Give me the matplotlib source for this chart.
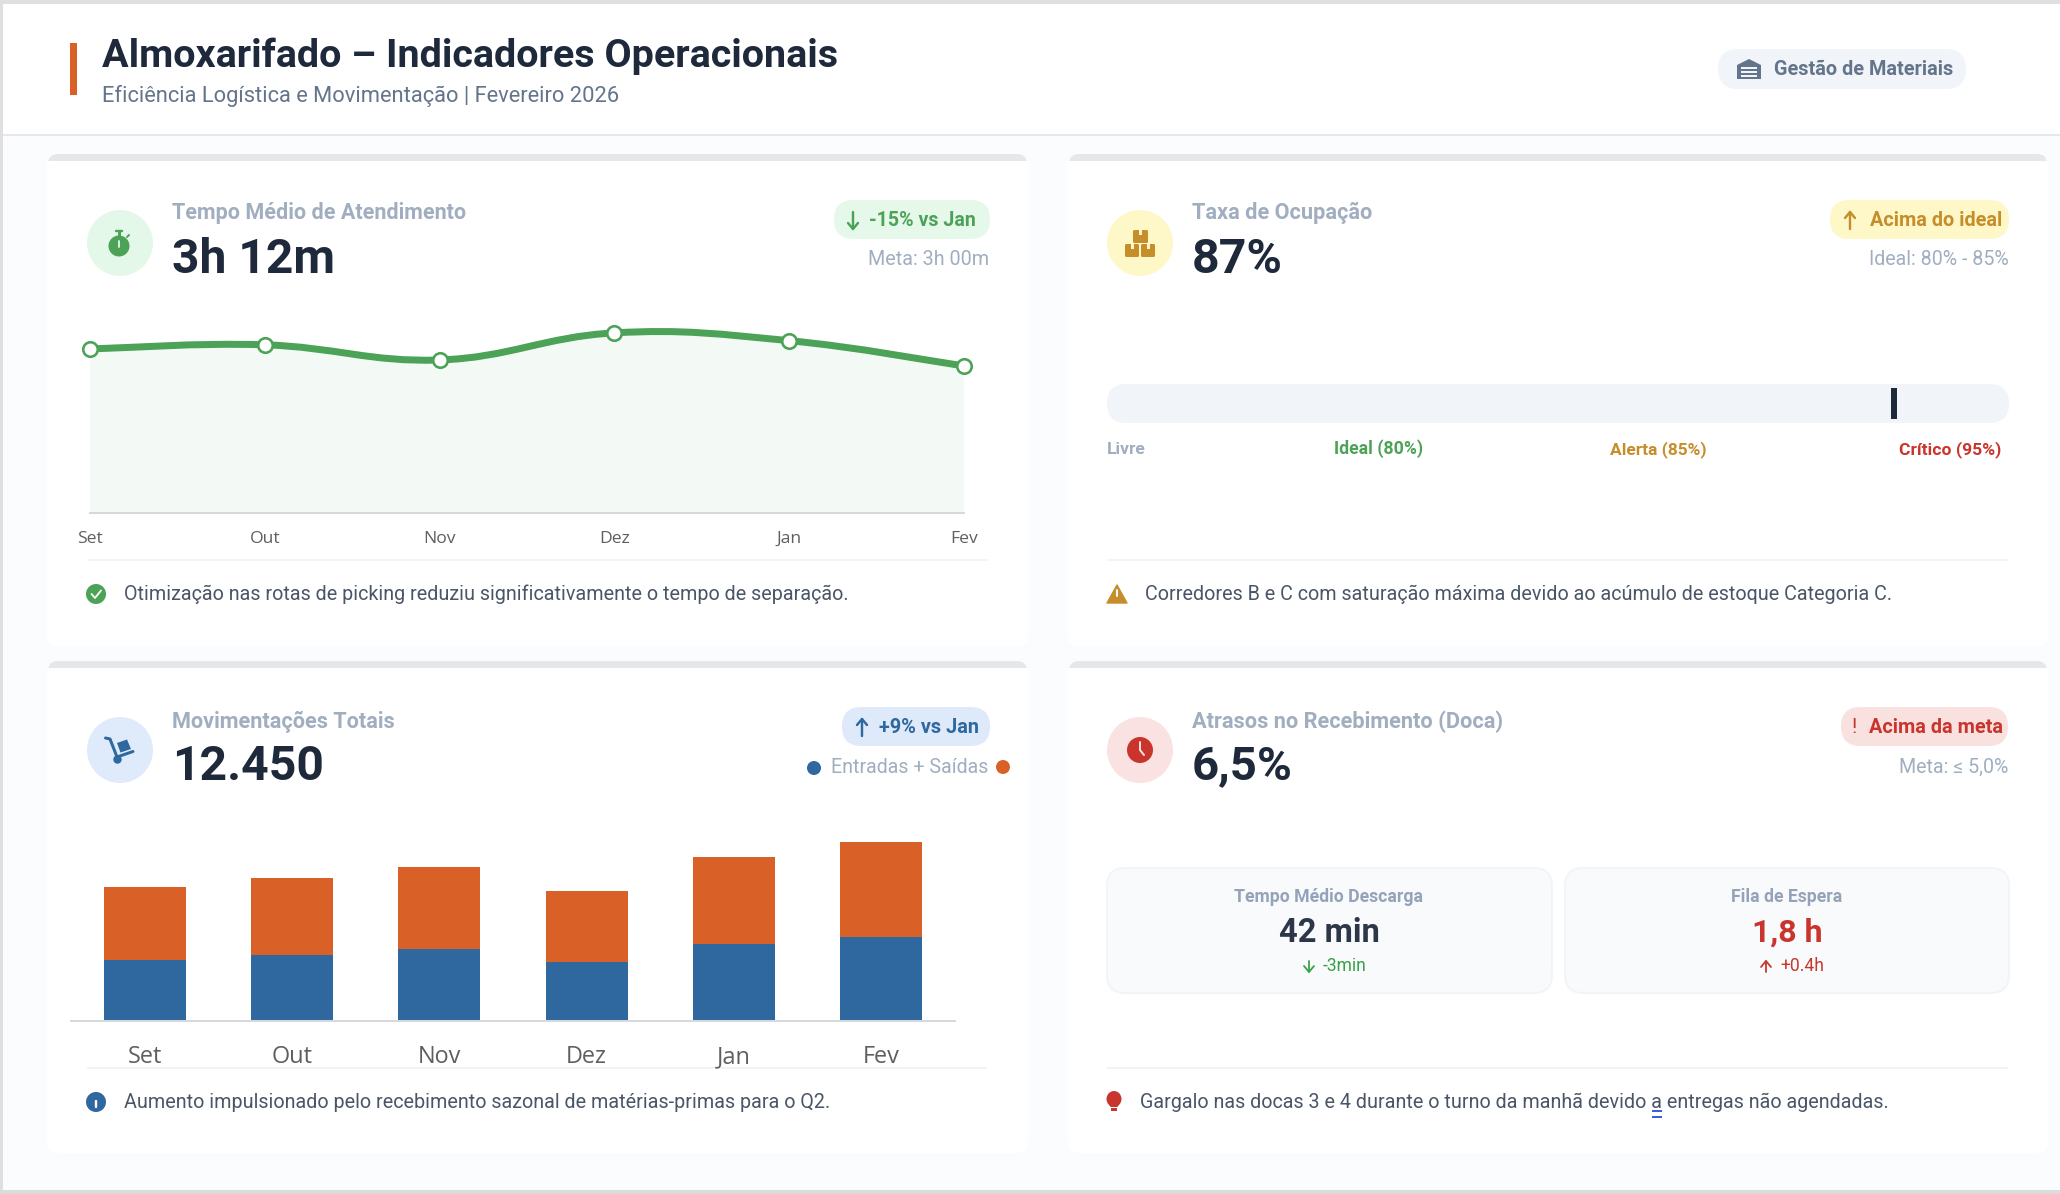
import matplotlib
matplotlib.use("Agg")
import matplotlib.pyplot as plt
from matplotlib.patches import Circle, FancyBboxPatch, Polygon, Rectangle, PathPatch, Ellipse
from matplotlib.path import Path

plt.rcParams["font.family"] = ["Roboto", "DejaVu Sans"]

# =====================================================================#
# DATA
# =====================================================================#
meses = ["Set", "Out", "Nov", "Dez", "Jan", "Fev"]
tempo_horas = [3.57, 3.66, 3.33, 3.92, 3.75, 3.20]
entradas = [4270, 4620, 5040, 4130, 5320, 5870]
saidas = [5030, 5310, 5660, 4890, 6080, 6580]
ocupacao = 87

# colours
INK = "#1E293B"
SLATE = "#64748B"
MUTED = "#A0AEC0"
BODY = "#4A5568"
GREEN = "#4CA257"
AMBER = "#C68D2B"
RED = "#C9352D"
BLUE = "#2E689F"
ORANGE = "#D96128"

W, H = 2060, 1194
fig = plt.figure(figsize=(W / 100, H / 100), dpi=100, facecolor="#FBFCFE")
bg = fig.add_axes([0, 0, 1, 1])
bg.set_xlim(0, W)
bg.set_ylim(H, 0)
bg.axis("off")
renderer = fig.canvas.get_renderer()


def px_axes(left, top, right, bottom):
    ax = fig.add_axes(
        [left / W, 1 - bottom / H, (right - left) / W, (bottom - top) / H],
        facecolor="none",
    )
    return ax


def rect(x0, y0, x1, y1, color, z=1):
    bg.add_patch(Rectangle((x0, y0), x1 - x0, y1 - y0, fc=color, ec="none", zorder=z))


def rrect(x0, y0, x1, y1, r, color, edge="none", z=1):
    bg.add_patch(
        FancyBboxPatch(
            (x0, y0), x1 - x0, y1 - y0,
            boxstyle=f"round,pad=0,rounding_size={r}",
            fc=color, ec=edge, lw=1.4, zorder=z,
        )
    )


def label(x, y, s, size, color, weight="normal", ha="left", width=None):
    t = bg.text(x, y, s, fontsize=size * 0.72, color=color, fontweight=weight,
                ha=ha, va="baseline", zorder=5)
    if width is not None:
        actual = t.get_window_extent(renderer).width
        t.set_fontsize(size * 0.72 * width / actual)
    return t


def seg(xs, ys, color, lw=2.0, z=6):
    bg.plot(xs, ys, color=color, lw=lw * 0.72, solid_capstyle="round",
            solid_joinstyle="round", zorder=z)


def arrow(x, y0, y1, color, lw=2.4):
    # y0 tail, y1 tip
    d = 6 if y1 > y0 else -6
    seg([x, x], [y0, y1], color, lw)
    seg([x - 5, x, x + 5], [y1 - d, y1, y1 - d], color, lw)


def dot(x, y, r, color, z=4):
    bg.add_patch(Circle((x, y), r, fc=color, ec="none", zorder=z))


def card(x0, y0, x1, y1):
    rrect(x0 + 1, y0, x1 - 1, y0 + 40, 10, "#E5E7EB", z=1)
    rrect(x0, y0 + 7, x1, y1, 10, "white", z=2)
    rect(x0, y0 + 7, x1, y0 + 40, "white", z=2)


def divider(x0, x1, y):
    rect(x0, y - 1, x1, y + 1, "#F1F3F6", z=3)


def smooth_path(xs, ys, close_to=None):
    # bezier through the data points, tension as in a canvas line chart
    pts = list(zip(xs, ys))
    verts = [pts[0]]
    codes = [Path.MOVETO]
    t = 0.2
    for i in range(len(pts) - 1):
        p0 = pts[max(i - 1, 0)]
        p1 = pts[i]
        p2 = pts[i + 1]
        p3 = pts[min(i + 2, len(pts) - 1)]
        c1 = (p1[0] + t * (p2[0] - p0[0]), p1[1] + t * (p2[1] - p0[1]))
        c2 = (p2[0] - t * (p3[0] - p1[0]), p2[1] - t * (p3[1] - p1[1]))
        verts += [c1, c2, p2]
        codes += [Path.CURVE4] * 3
    if close_to is not None:
        verts += [(xs[-1], close_to), (xs[0], close_to), pts[0]]
        codes += [Path.LINETO, Path.LINETO, Path.CLOSEPOLY]
    return Path(verts, codes)


# =====================================================================#
# FRAME + HEADER
# =====================================================================#
rect(0, 4, W, 134, "white")
rect(0, 134, W, 136, "#E5E7EB")
rect(0, 0, W, 4, "#DFDFDF", z=8)
rect(0, 0, 3, H, "#DFDFDF", z=8)
rect(0, 1190, W, H, "#DCDCDC", z=8)
rect(70, 43, 77, 95, ORANGE)
label(102, 67, "Almoxarifado – Indicadores Operacionais", 40, INK, "bold", width=737)
label(102, 102, "Eficiência Logística e Movimentação | Fevereiro 2026", 22, SLATE, width=519)

rrect(1718, 49, 1966, 89, 20, "#F1F5F9")
bg.add_patch(Polygon([(1737, 65), (1749, 59), (1761, 65), (1761, 79), (1737, 79)],
                     fc=SLATE, ec="none", zorder=4))
for yy in (68, 72, 76):
    rect(1741, yy - 0.6, 1757, yy + 0.6, "#F1F5F9", z=5)
label(1774, 75, "Gestão de Materiais", 20, SLATE, "bold", width=179)

card(47, 154, 1028, 646)
card(1068, 154, 2048, 646)
card(47, 661, 1028, 1153)
card(1068, 661, 2048, 1153)


# =====================================================================#
# CARD HEADS
# =====================================================================#
def head(xc, yc, fill, lx, ly, ltext, lw, vtext, vw, vy):
    dot(xc, yc, 33, fill)
    label(lx, ly, ltext, 20, MUTED, "bold", width=lw)
    label(lx, vy, vtext, 48, INK, "bold", width=vw)


def badge(x0, x1, y0, fill):
    rrect(x0, y0, x1, y0 + 39, 19.5, fill, z=3)


# card 1
head(120, 243, "#E4F8EA", 172, 219, "Tempo Médio de Atendimento", 294, "3h 12m", 163, 273)
dot(119, 246, 10.5, GREEN, z=5)
rect(117.5, 231, 120.5, 237, GREEN, z=5)
seg([116, 122], [231, 231], GREEN, 2.4)
seg([127, 129], [237, 235], GREEN, 2)
seg([119, 119], [241, 247], "#E4F8EA", 1.8)
badge(834, 990, 200, "#E5F8EA")
arrow(853, 212, 229, GREEN)
label(869, 226, "-15% vs Jan", 20, GREEN, "bold", width=107)
label(989, 265, "Meta: 3h 00m", 19, MUTED, ha="right", width=121)

# card 2
head(1140, 243, "#FEF7C8", 1192, 219, "Taxa de Ocupação", 180, "87%", 91, 273)
for x0, x1, y0, y1 in [(1133, 1148, 230, 243), (1125, 1139, 244, 257), (1141, 1155, 244, 257)]:
    rrect(x0, y0, x1, y1, 1.5, AMBER, z=5)
    rect((x0 + x1) / 2 - 1.5, y0, (x0 + x1) / 2 + 1.5, y0 + 5, "#FEF7C8", z=6)
badge(1830, 2009, 200, "#FEF7C7")
arrow(1850, 229, 212, AMBER)
label(1870, 226, "Acima do ideal", 20, AMBER, "bold", width=132)
label(2009, 265, "Ideal: 80% - 85%", 19, MUTED, ha="right", width=140)

# card 3
head(120, 750, "#DFEAFB", 172, 728, "Movimentações Totais", 222, "12.450", 152, 780)
seg([105.5, 110, 117, 133], [738, 739, 757, 751.5], BLUE, 3)
bg.add_patch(Polygon([(117, 743), (127, 739.5), (131, 749), (120.5, 752.5)], fc=BLUE, ec="none", zorder=5))
dot(117.5, 759.5, 4.2, BLUE, z=6)
badge(842, 990, 707, "#DEE9FA")
arrow(862, 736, 719, BLUE)
label(879, 733, "+9% vs Jan", 20, BLUE, "bold", width=100)
dot(814, 768, 7, BLUE)
label(831, 773, "Entradas + Saídas", 19, MUTED, width=158)
dot(1003, 767, 7, ORANGE)

# card 4
head(1140, 750, "#F9E2E1", 1192, 728, "Atrasos no Recebimento (Doca)", 310, "6,5%", 101, 779)
dot(1140, 750, 13, RED, z=5)
seg([1140, 1140, 1144], [742, 750, 755], "#F9E2E1", 2)
badge(1841, 2008, 707, "#F9E1E0")
label(1854, 733, "!", 20, RED, ha="center")
label(1869, 733, "Acima da meta", 20, RED, "bold", width=134)
label(2008, 773, "Meta: ≤ 5,0%", 19, MUTED, ha="right", width=110)

# =====================================================================#
# LINE CHART
# =====================================================================#
ax = px_axes(90, 320, 964, 513)
ax.set_xlim(0, len(meses) - 1)
ax.set_ylim(0, 4.2)
xs = list(range(len(meses)))
ax.add_patch(PathPatch(smooth_path(xs, tempo_horas, close_to=0), fc="#F3FAF5", ec="none", zorder=1))
ax.add_patch(PathPatch(smooth_path(xs, tempo_horas), fc="none", ec=GREEN, lw=7 * 0.72, zorder=2,
                       capstyle="round"))
ax.plot(xs, tempo_horas, ls="none", marker="o", ms=14.5 * 0.72, mfc="white", mec=GREEN,
        mew=2.6 * 0.72, zorder=3, clip_on=False)
ax.set_yticks([])
ax.set_xticks(xs)
ax.set_xticklabels(meses, fontsize=17.5 * 0.72, color="#5F5F5F", family="Open Sans", va="baseline")
ax.tick_params(axis="x", length=0, pad=30 * 0.72)
for s in ("top", "left", "right"):
    ax.spines[s].set_visible(False)
ax.spines["bottom"].set_color("#D5D8DC")
ax.spines["bottom"].set_linewidth(2 * 0.72)

divider(87, 987, 560)
dot(96, 594, 10, GREEN)
seg([91.5, 95, 101], [594, 598, 590.5], "white", 1.8)
label(124, 600, "Otimização nas rotas de picking reduziu significativamente o tempo de separação.",
      20, BODY, width=725)

# =====================================================================#
# GAUGE
# =====================================================================#
rrect(1107, 384, 2009, 423, 19.5, "#F1F4F9", z=3)
gx = px_axes(1107, 384, 2008, 423)
gx.set_xlim(0, 100)
gx.set_ylim(0, 1)
gx.axis("off")
gx.barh(0.5, 0.67, left=ocupacao, height=0.77, color=INK)

label(1107, 454, "Livre", 18, MUTED, "bold", width=39)
label(1334, 454, "Ideal (80%)", 18, GREEN, "bold", width=89)
label(1610, 454, "Alerta (85%)", 18, AMBER, "bold", width=97)
label(1899, 454, "Crítico (95%)", 18, RED, "bold", width=102)

divider(1107, 2008, 560)
bg.add_patch(Polygon([(1117, 585), (1127, 603), (1107, 603)], fc=AMBER, ec=AMBER, lw=1,
                     joinstyle="round", zorder=4))
seg([1117, 1117], [590, 596], "white", 2)
seg([1117, 1117], [599.5, 600], "white", 2)
label(1145, 600, "Corredores B e C com saturação máxima devido ao acúmulo de estoque Categoria C.",
      20, BODY, width=747)

# =====================================================================#
# STACKED BARS
# =====================================================================#
bx = px_axes(71, 834, 955, 1021)
bx.set_xlim(-0.5, len(meses) - 0.5)
bx.set_ylim(0, 13000)
bx.bar(meses, entradas, width=0.557, color=BLUE)
bx.bar(meses, saidas, width=0.557, bottom=entradas, color=ORANGE)
bx.set_yticks([])
bx.set_xticks(range(len(meses)))
bx.set_xticklabels(meses, fontsize=23.5 * 0.72, color="#5F5F5F", family="Open Sans", va="baseline")
bx.tick_params(axis="x", length=0, pad=42 * 0.72)
for s in ("top", "left", "right"):
    bx.spines[s].set_visible(False)
bx.spines["bottom"].set_color("#D5D8DC")
bx.spines["bottom"].set_linewidth(2 * 0.72)

divider(87, 987, 1068)
dot(96, 1102, 10, BLUE)
seg([96, 96], [1101, 1107], "white", 2.4)
seg([96, 96], [1096.5, 1097], "white", 2.4)
label(124, 1108, "Aumento impulsionado pelo recebimento sazonal de matérias-primas para o Q2.",
      20, BODY, width=706)

# =====================================================================#
# DOCK BOXES
# =====================================================================#
rrect(1107, 868, 1552, 993, 18, "#F8FAFC", edge="#F1F5F9", z=3)
rrect(1565, 868, 2009, 993, 18, "#F8FAFC", edge="#F1F5F9", z=3)
label(1329, 902, "Tempo Médio Descarga", 18, "#94A3B8", "bold", ha="center", width=189)
label(1329, 942, "42 min", 32, "#2D3748", "bold", ha="center", width=101)
arrow(1309, 961, 972, "#38A144", lw=1.8)
label(1323, 971, "-3min", 17, "#38A144", width=44)
label(1787, 902, "Fila de Espera", 18, "#94A3B8", "bold", ha="center", width=111)
label(1787, 942, "1,8 h", 32, RED, "bold", ha="center", width=71)
arrow(1766, 972, 961, RED, lw=1.8)
label(1780, 971, "+0.4h", 17, RED, width=44)

divider(1107, 2008, 1068)
bg.add_patch(Ellipse((1114, 1099), 15, 16, fc=RED, ec="none", zorder=4))
bg.add_patch(Polygon([(1108, 1102), (1120, 1102), (1117.5, 1107), (1110.5, 1107)], fc=RED, ec="none", zorder=4))
rect(1111, 1108, 1117, 1110.5, RED, z=4)
label(1140, 1108, "Gargalo nas docas 3 e 4 durante o turno da manhã devido a entregas não agendadas.",
      20, BODY, width=749)
rect(1652, 1109.5, 1662, 1111.5, "#3B5FDB", z=6)
rect(1652, 1115.5, 1662, 1117.5, "#3B5FDB", z=6)

fig.savefig("out.png", dpi=100, facecolor=fig.get_facecolor())
